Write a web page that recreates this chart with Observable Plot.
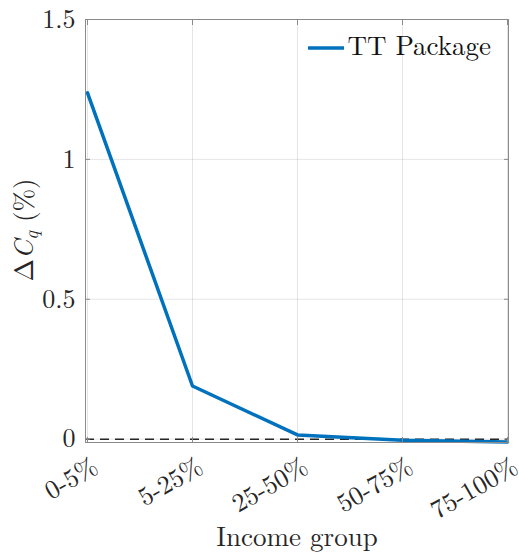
<!DOCTYPE html>
<html>
<head>
<meta charset="utf-8">
<script src="https://cdn.jsdelivr.net/npm/d3@7"></script>
<script src="https://cdn.jsdelivr.net/npm/@observablehq/plot@0.6"></script>
<style>
  html, body { margin: 0; padding: 0; background: #fff; }
  #chart svg { display: block; }
  #chart svg text, #chart svg tspan { font-family: 'Latin Modern Roman', 'Liberation Serif', serif !important; }
</style>
</head>
<body>
<div id="chart"></div>
<script>
const groups = ["0-5%", "5-25%", "25-50%", "50-75%", "75-100%"];
const deltaCq = [1.238, 0.19, 0.015, -0.004, -0.01];
const yTicks = [0, 0.5, 1, 1.5];
const yTickLabels = ["0", "0.5", "1", "1.5"];
const seriesName = "TT Package";
const xLabel = "Income group";

const data = groups.map((g, i) => ({group: g, value: deltaCq[i]}));
const font = "'Latin Modern Roman', 'Liberation Serif', serif";
const blue = "#0072BD";
const ink = "#262626";
const frameColor = "#8a8a8a";

const plot = Plot.plot({
  width: 519,
  height: 553,
  marginLeft: 85,
  marginRight: 11,
  marginTop: 19,
  marginBottom: 111,
  style: {fontFamily: font, fontSize: "26px", color: ink, background: "#fff"},
  x: {type: "point", domain: groups, padding: 0, axis: null},
  y: {domain: [-0.012, 1.5], axis: null},
  marks: [
    Plot.gridX(groups, {stroke: "#000", strokeOpacity: 0.1}),
    Plot.gridY(yTicks, {stroke: "#000", strokeOpacity: 0.1}),
    Plot.ruleY([0], {stroke: ink, strokeWidth: 1.5, strokeDasharray: "9,6"}),
    Plot.line(data, {x: "group", y: "value", stroke: blue, strokeWidth: 3.5}),
    Plot.frame({stroke: frameColor, strokeWidth: 1}),
    Plot.axisX(groups, {anchor: "bottom", tickSize: -5, tickFormat: () => "", label: null, stroke: frameColor}),
    Plot.axisX(groups, {anchor: "top", tickSize: -5, tickFormat: () => "", label: null, stroke: frameColor}),
    Plot.axisY(yTicks, {anchor: "right", tickSize: -5, tickFormat: () => "", label: null, stroke: frameColor}),
    Plot.axisY(yTicks, {
      anchor: "left",
      tickFormat: (d) => yTickLabels[yTicks.indexOf(d)],
      tickSize: -5, tickPadding: 15, fontSize: 26, label: null, fill: ink, stroke: frameColor
    }),
    Plot.text(groups, {
      x: (d) => d, frameAnchor: "bottom", rotate: -30, textAnchor: "end",
      lineAnchor: "middle", dx: 8, dy: 22, fontSize: 26, fill: ink
    }),
    Plot.text([xLabel], {frameAnchor: "bottom", lineAnchor: "bottom", dy: 103, fontSize: 27, fill: ink}),
    Plot.text([seriesName], {frameAnchor: "top-right", textAnchor: "start", lineAnchor: "bottom", dx: -161, dy: 35, fontSize: 27, fill: "#111"})
  ]
});

const svg = d3.select(plot);
// legend swatch
svg.append("line")
  .attr("x1", 308).attr("x2", 344).attr("y1", 48).attr("y2", 48)
  .attr("stroke", blue).attr("stroke-width", 3.5);
// y label with italic C and subscript q
const yl = svg.append("text")
  .attr("transform", "translate(33,230) rotate(-90)")
  .attr("text-anchor", "middle")
  .attr("font-size", 27)
  .attr("fill", ink);
yl.append("tspan").text("Δ");
yl.append("tspan").attr("font-style", "italic").text("C");
yl.append("tspan").attr("font-style", "italic").attr("font-size", 19).attr("dy", 5).text("q");
yl.append("tspan").attr("dy", -5).text(" (%)");

document.getElementById("chart").appendChild(plot);
</script>
</body>
</html>
